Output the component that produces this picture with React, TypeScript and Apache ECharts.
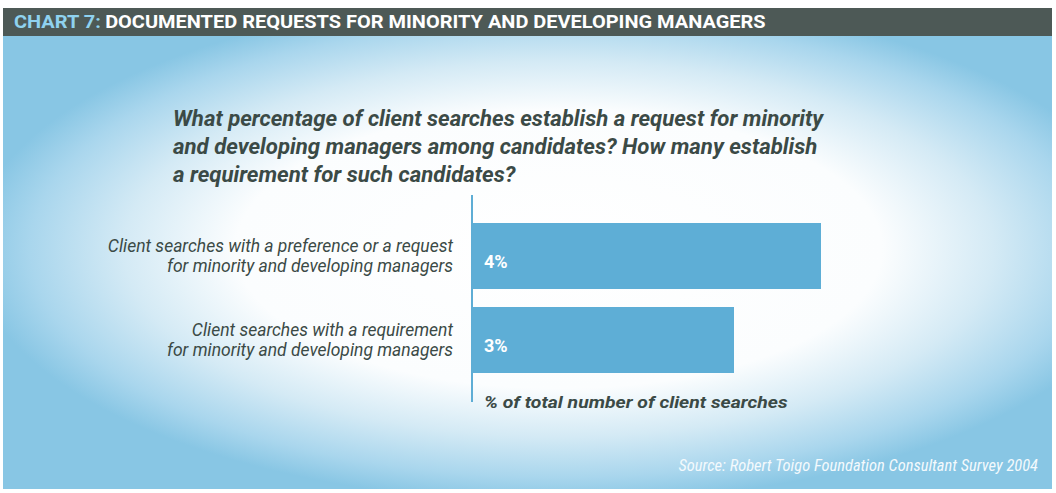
import React, { useEffect, useRef } from "react";
import * as echarts from "echarts";

const headerLead = "CHART 7:";
const headerTitle = "DOCUMENTED REQUESTS FOR MINORITY AND DEVELOPING MANAGERS";
const questionLines = [
  "What percentage of client searches establish a request for minority",
  "and developing managers among candidates? How many establish",
  "a requirement for such candidates?",
];
const categories = [
  "Client searches with a preference or a request\nfor minority and developing managers",
  "Client searches with a requirement\nfor minority and developing managers",
];
const values = [4, 3];
const axisTitle = "% of total number of client searches";
const sourceText = "Source: Robert Toigo Foundation Consultant Survey 2004";

const SANS = 'Roboto, "Liberation Sans", sans-serif';
const COND = '"Roboto Condensed", Roboto, "Liberation Sans", sans-serif';
const DARK = "#3b4a46";

export default function App() {
  const ref = useRef<HTMLDivElement>(null);
  useEffect(() => {
    if (!ref.current) return;
    const chart = echarts.init(ref.current, null, { renderer: "svg" });
    chart.setOption({
      animation: false,
      backgroundColor: "#ffffff",
      grid: { left: 473, right: 61, top: 214, bottom: 111 },
      xAxis: { type: "value", min: 0, max: 6, show: false },
      yAxis: {
        type: "category",
        inverse: true,
        data: categories,
        axisLine: { show: false },
        axisTick: { show: false },
        splitLine: { show: false },
        axisLabel: {
          margin: 20,
          fontSize: 17.5,
          lineHeight: 20,
          fontStyle: "italic",
          fontFamily: SANS,
          color: DARK,
          align: "right",
        },
      },
      graphic: [
        {
          type: "rect",
          z: -10,
          silent: true,
          shape: { x: 3, y: 36, width: 1049, height: 453 },
          style: {
            fill: new echarts.graphic.RadialGradient(0.53, 0.47, 0.56, [
              { offset: 0, color: "#ffffff" },
              { offset: 0.55, color: "#fbfdfe" },
              { offset: 0.74, color: "#d4eaf5" },
              { offset: 0.9, color: "#a9d6ed" },
              { offset: 1, color: "#88c6e4" },
            ]),
          },
        },
        {
          type: "rect",
          z: -5,
          silent: true,
          shape: { x: 3, y: 8, width: 1049, height: 28 },
          style: { fill: "#4d5956" },
        },
        {
          type: "text",
          x: 14,
          y: 22,
          scaleX: 1.11,
          style: {
            text: "{a|" + headerLead + "} {b|" + headerTitle + "}",
            verticalAlign: "middle",
            rich: {
              a: { fontSize: 18, fontWeight: "bold", fontFamily: SANS, fill: "#8fd2ef" },
              b: { fontSize: 18, fontWeight: "bold", fontFamily: SANS, fill: "#ffffff" },
            },
          },
        },
        {
          type: "text",
          x: 173,
          y: 104,
          style: {
            text: questionLines.join("\n"),
            fontSize: 22.2,
            lineHeight: 28,
            fontWeight: "bold",
            fontStyle: "italic",
            fontFamily: SANS,
            fill: DARK,
          },
        },
        {
          type: "line",
          silent: true,
          shape: { x1: 472, y1: 195, x2: 472, y2: 402 },
          style: { stroke: "#5eadd5", lineWidth: 2 },
        },
        {
          type: "text",
          x: 484,
          y: 402,
          scaleX: 1.14,
          style: {
            text: axisTitle,
            fontSize: 17,
            fontWeight: "bold",
            fontStyle: "italic",
            fontFamily: SANS,
            fill: DARK,
            verticalAlign: "middle",
          },
        },
        {
          type: "text",
          x: 1038,
          y: 465,
          style: {
            text: sourceText,
            fontSize: 16.5,
            fontStyle: "italic",
            fontFamily: COND,
            fill: "#f4fafd",
            align: "right",
            verticalAlign: "middle",
          },
        },
      ],
      series: [
        {
          type: "bar",
          data: values,
          barWidth: 66,
          itemStyle: { color: "#5eaed6" },
          label: {
            show: true,
            position: "insideLeft",
            distance: 11,
            offset: [0, 5],
            formatter: "{c}%",
            color: "#ffffff",
            fontSize: 18,
            fontWeight: "bold",
            fontFamily: SANS,
          },
        },
      ],
    });
    return () => chart.dispose();
  }, []);
  return (
    <div
      ref={ref}
      style={{ position: "fixed", left: 0, top: 0, width: 1056, height: 493 }}
    />
  );
}
